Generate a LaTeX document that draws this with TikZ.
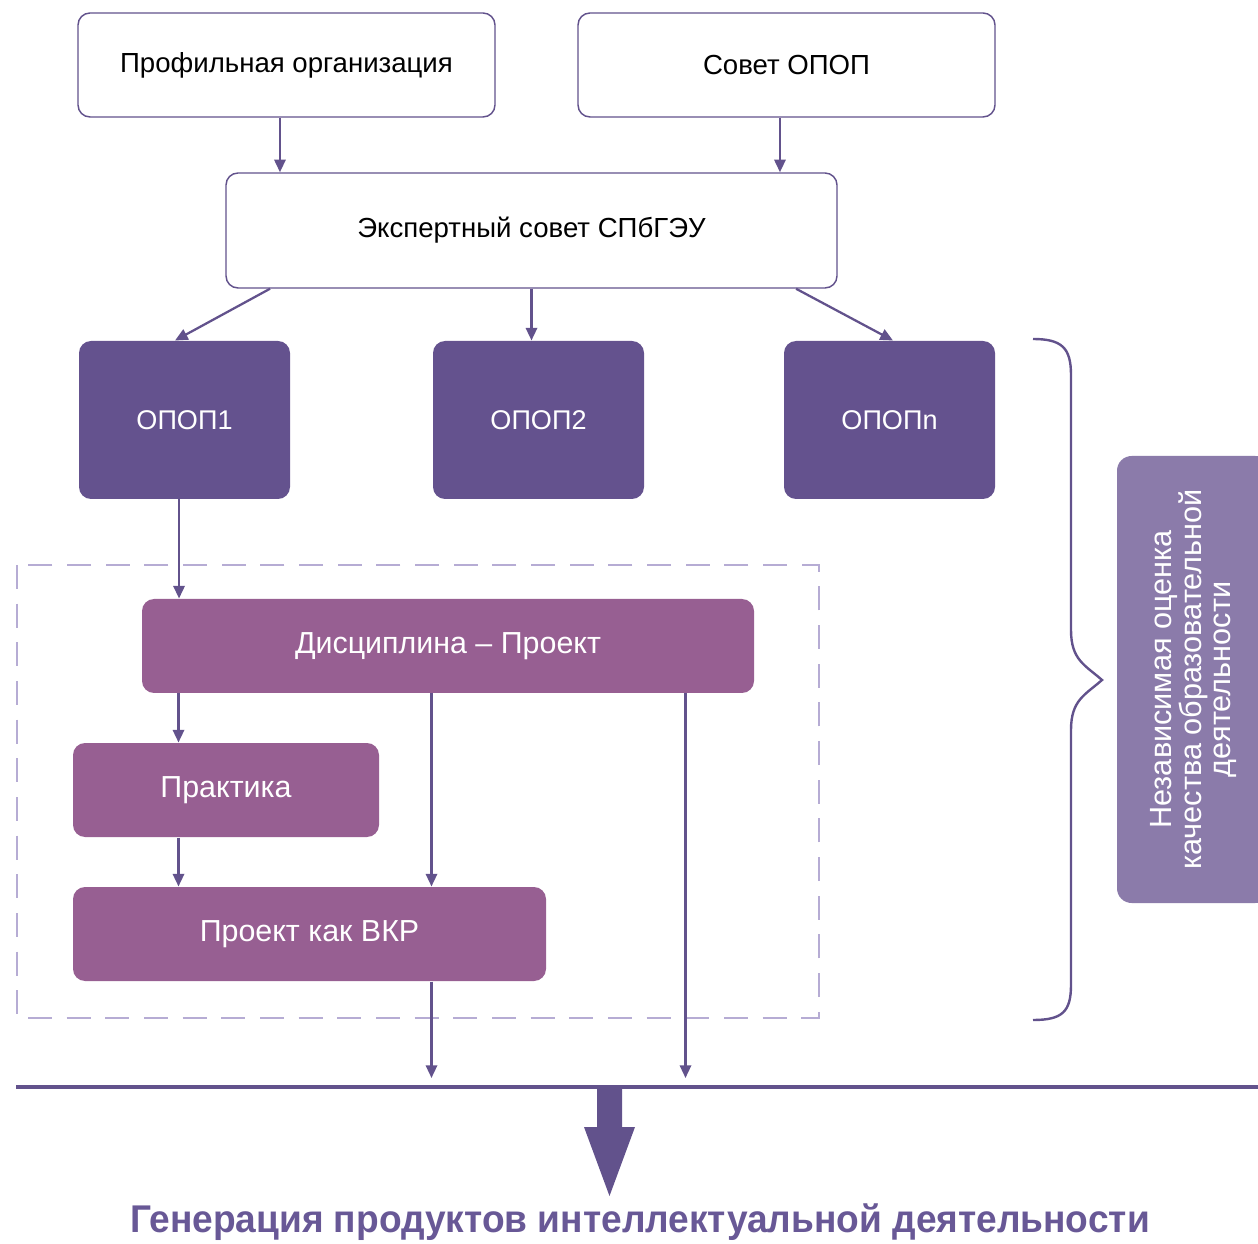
\documentclass[tikz,border=0pt]{standalone}
\usepackage{fontspec}
\setmainfont{Liberation Sans}
\newfontfamily\titlefont[FakeStretch=0.96]{Liberation Sans}
\usetikzlibrary{arrows.meta}

\definecolor{lineclr}{RGB}{98,82,140}
\definecolor{opopclr}{RGB}{100,82,142}
\definecolor{discclr}{RGB}{151,95,146}
\definecolor{sideclr}{RGB}{139,123,170}
\definecolor{dashclr}{RGB}{182,172,212}
\definecolor{titleclr}{RGB}{104,88,150}

\tikzset{every picture/.style={line width=0.75pt}}
\tikzset{
  whitebox/.style={draw=lineclr, line width=1.1pt, fill=white, rounded corners=9pt, font=\fontsize{20.7}{24}\selectfont},
  opopbox/.style={fill=opopclr, rounded corners=9pt, text=white, minimum width=158.25pt, minimum height=118.5pt, font=\fontsize{20.3}{24}\selectfont},
  discbox/.style={fill=discclr, rounded corners=9pt, text=white, minimum height=70.5pt, font=\fontsize{22.8}{26}\selectfont},
  arr/.style={draw=lineclr, line width=1.7pt, -{Triangle[length=9.5pt,width=8.5pt]}},
}

\begin{document}
\begin{tikzpicture}[x=0.75pt,y=0.75pt,yscale=-1,xscale=1]
\useasboundingbox (0,0) rectangle (1258,1244);

%Shape: Dashed Rectangle
\draw [dashclr, line width=1.5pt, dash pattern=on 18pt off 11pt] (17,565) rectangle (819,1018);

% Text Node
\node [whitebox, minimum width=312.75pt, minimum height=78pt] (prof) at (286.5,65) {Профильная организация};
% Text Node
\node [whitebox, minimum width=312.75pt, minimum height=78pt] (sovet) at (786.5,65) {Совет ОПОП};
% Text Node
\node [whitebox, minimum width=458.25pt, minimum height=86.25pt] (expert) at (531.5,230.5) {Экспертный совет СПбГЭУ};

% Text Node
\node [opopbox] (opop1) at (184.5,420) {ОПОП1};
% Text Node
\node [opopbox] (opop2) at (538.5,420) {ОПОП2};
% Text Node
\node [opopbox] (opopn) at (889.5,420) {ОПОПn};

% Text Node
\node [discbox, minimum width=459pt] (disc) at (448,646) {Дисциплина – Проект};
% Text Node
\node [discbox, minimum width=229.5pt] (prakt) at (226,790) {Практика};
% Text Node
\node [discbox, minimum width=354.75pt] (vkr) at (309.5,934) {Проект как ВКР};

% Text Node
\node [fill=sideclr, rounded corners=11pt, text=white, rotate=90, minimum width=335.25pt, minimum height=114.75pt, align=center, font=\fontsize{23}{21.5}\selectfont] (ocenka) at (1193.5,679.5) {Независимая оценка\\качества образовательной\\деятельности};

%Straight Lines
\draw [arr] ([xshift=-4.9pt]prof.south) -- ([xshift=-4.9pt]prof.south |- expert.north);
\draw [arr] ([xshift=-4.9pt]sovet.south) -- ([xshift=-4.9pt]sovet.south |- expert.north);
\draw [arr] ([xshift=-196.1pt]expert.south) -- ([xshift=-7.1pt]opop1.north);
\draw [arr] (expert.south) -- (expert.south |- opop2.north);
\draw [arr] ([xshift=198.4pt]expert.south) -- ([xshift=2.6pt]opopn.north);
\draw [arr] ([xshift=-4.1pt]opop1.south) -- ([xshift=-4.1pt]opop1.south |- disc.north);
\draw [arr] ([xshift=27.75pt]disc.south west) -- ([xshift=27.75pt]disc.south west |- prakt.north);
\draw [arr] ([xshift=217.5pt]disc.south west) -- ([xshift=217.5pt]disc.south west |- vkr.north);
\draw [arr] ([xshift=79.5pt]prakt.south west) -- ([xshift=79.5pt]prakt.south west |- vkr.north);

%Base line
\coordinate (base1) at (16,1087);
\coordinate (base2) at (1258,1087);
\draw [lineclr, line width=2.4pt] (base1) -- (base2);
\draw [arr] ([xshift=269.25pt]vkr.south west) -- ([xshift=269.25pt,yshift=-6.75pt]vkr.south west |- base1);
\draw [arr] ([xshift=408pt]disc.south west) -- ([xshift=408pt,yshift=-6.75pt]disc.south west |- base1);

%Shape: Big Arrow
\fill [lineclr] (597,1087) -- (622,1087) -- (622,1127) -- (635,1127) -- (609.5,1196) -- (584,1127) -- (597,1127) -- cycle;

%Curve Lines: Brace
\draw [lineclr, line width=1.8pt] (1033,339) .. controls (1062,339) and (1071,348) .. (1071,375) -- (1071,630) .. controls (1071,660) and (1085,665) .. (1102,680) .. controls (1085,695) and (1071,700) .. (1071,730) -- (1071,985) .. controls (1071,1012) and (1062,1020) .. (1033,1020);

% Text Node
\node [text=titleclr, font=\titlefont\fontsize{29}{34}\selectfont\bfseries] (gen) at (640,1222) {Генерация продуктов интеллектуальной деятельности};

\end{tikzpicture}
\end{document}
